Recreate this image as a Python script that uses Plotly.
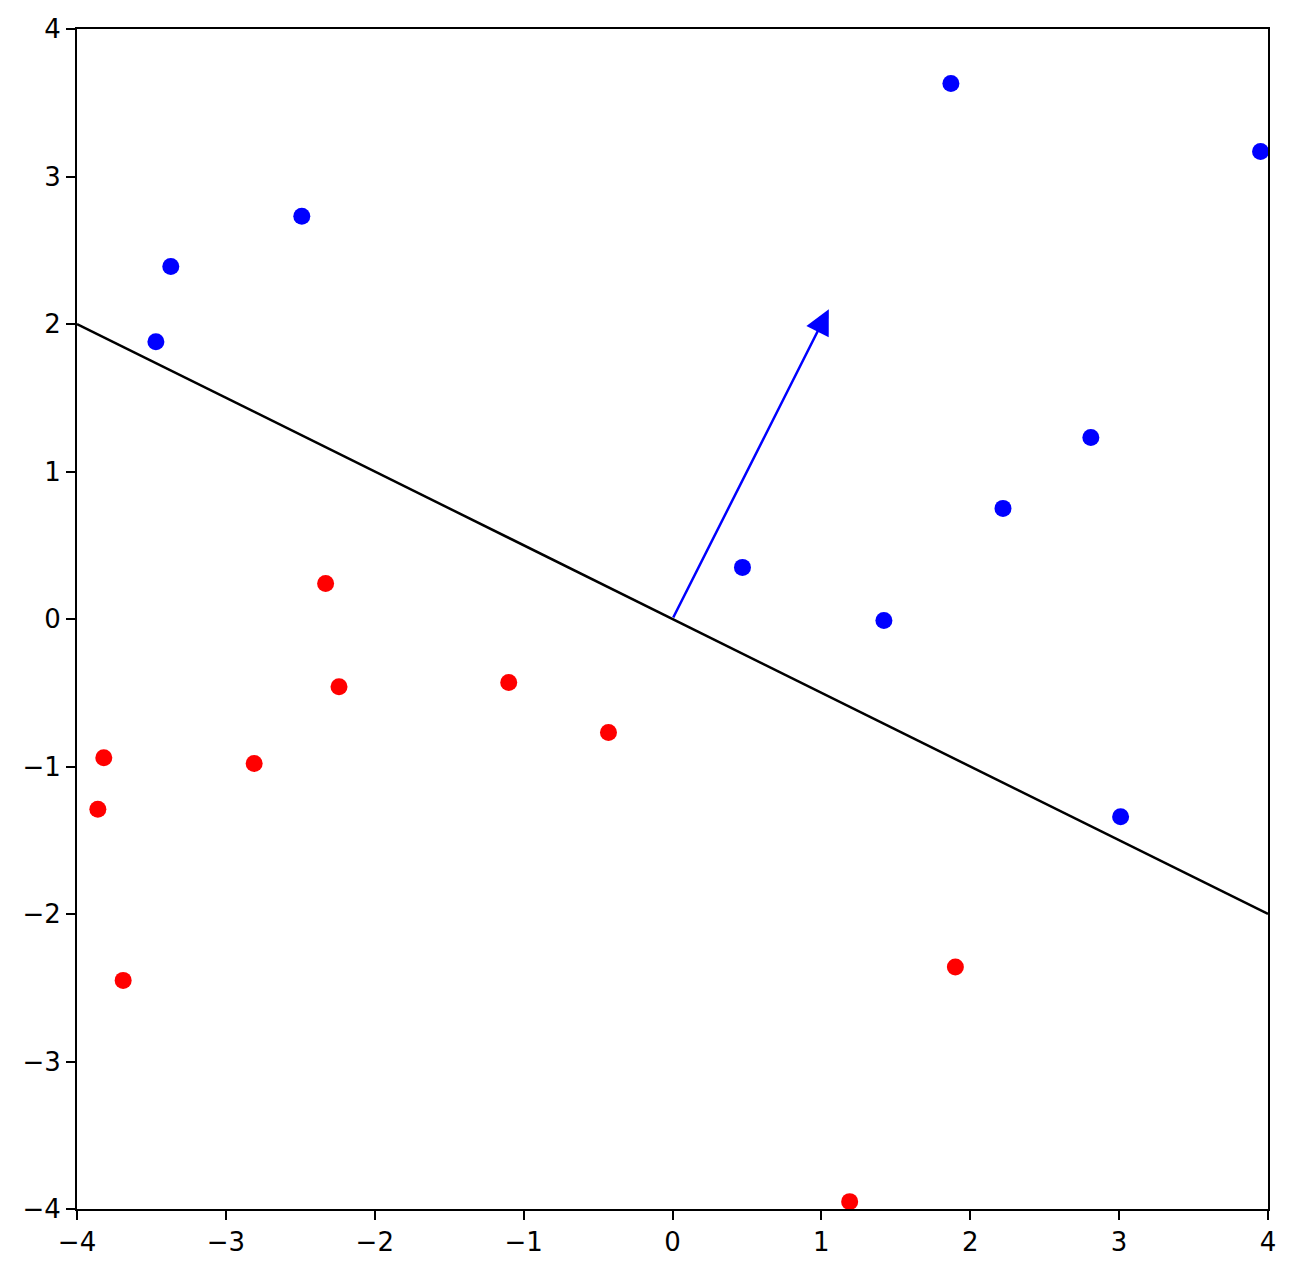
import plotly.graph_objects as go

blue_x = [1.87, 3.95, -2.49, -3.37, -3.47, 2.81, 2.22, 0.47, 1.42, 3.01]
blue_y = [3.63, 3.17, 2.73, 2.39, 1.88, 1.23, 0.75, 0.35, -0.01, -1.34]
red_x = [-2.33, -2.24, -1.10, -0.43, -3.82, -2.81, -3.86, -3.69, 1.90, 1.19]
red_y = [0.24, -0.46, -0.43, -0.77, -0.94, -0.98, -1.29, -2.45, -2.36, -3.95]
line_x = [-4, 4]
line_y = [2, -2]
w = [1.0, 2.0]
head_scale = 1.05
ticks = [-4, -3, -2, -1, 0, 1, 2, 3, 4]

fig = go.Figure()
fig.add_trace(go.Scatter(x=line_x, y=line_y, mode="lines",
                         line=dict(color="black", width=2.5), showlegend=False))
fig.add_trace(go.Scatter(x=blue_x, y=blue_y, mode="markers",
                         marker=dict(color="blue", size=17), showlegend=False, cliponaxis=False))
fig.add_trace(go.Scatter(x=red_x, y=red_y, mode="markers",
                         marker=dict(color="red", size=17), showlegend=False, cliponaxis=False))

fig.add_annotation(x=w[0] * head_scale, y=w[1] * head_scale, ax=0, ay=0,
                   xref="x", yref="y", axref="x", ayref="y",
                   showarrow=True, arrowhead=2, arrowsize=2.0, arrowwidth=2.5,
                   arrowcolor="blue", text="")

axis_common = dict(range=[-4, 4], tickvals=ticks, showgrid=False, zeroline=False,
                   showline=True, linecolor="black", linewidth=2, mirror=True,
                   ticks="outside", ticklen=9, tickwidth=2, tickcolor="black",
                   automargin=False,
                   tickfont=dict(family="DejaVu Sans", size=26, color="black"))

fig.update_xaxes(**axis_common)
fig.update_yaxes(**axis_common)

fig.update_layout(width=1295, height=1275,
                  margin=dict(l=69, r=35, t=21, b=74),
                  plot_bgcolor="white", paper_bgcolor="white")

fig.write_html("out.html")
